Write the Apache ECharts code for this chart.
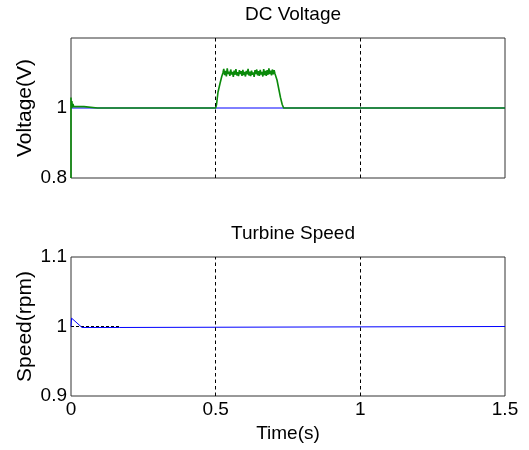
<!DOCTYPE html>
<html>
<head>
<meta charset="utf-8">
<script src="https://cdn.jsdelivr.net/npm/echarts@6/dist/echarts.min.js"></script>
<style>html,body{margin:0;padding:0;background:#fff;}#c{width:529px;height:450px;}</style>
</head>
<body>
<div id="c"></div>
<script>
// ---- data (time in s, value in p.u.) ----
var voltageTitle = 'DC Voltage';
var speedTitle = 'Turbine Speed';
var voltageAxisName = 'Voltage(V)';
var speedAxisName = 'Speed(rpm)';
var timeAxisName = 'Time(s)';

// interior vertical grid lines (s)
var gridTimes = [0.5, 1.0];

// measured DC voltage (green)
var dcVoltageMeasured = [
  [0,0.8],[0,1.03],[0.001,1.0],[0.003,1.02],[0.005,1.001],[0.007,1.012],[0.009,1.004],[0.045,1.004],[0.046,1.0],
  [0.0915,1.0],[0.092,1.005],[0.0925,1.0],
  [0.1115,1.0],[0.112,1.005],[0.1125,1.0],
  [0.1405,1.0],[0.141,1.005],[0.1415,1.0],
  [0.1515,1.0],[0.152,1.005],[0.1525,1.0],
  [0.1805,1.0],[0.181,1.005],[0.1815,1.0],
  [0.2145,1.0],[0.215,1.005],[0.2155,1.0],
  [0.2665,1.0],[0.267,1.005],[0.2675,1.0],
  [0.2955,1.0],[0.296,1.005],[0.2965,1.0],
  [0.3645,1.0],[0.365,1.005],[0.3655,1.0],
  [0.4295,1.0],[0.430,1.004],[0.4305,1.0],
  [0.5,1.0],[0.503,1.01],[0.508,1.045],[0.515,1.07],[0.521,1.09],
  [0.525,1.100],[0.528,1.112],[0.531,1.094],[0.534,1.106],[0.537,1.090],[0.540,1.113],[0.543,1.097],[0.546,1.104],
  [0.549,1.092],[0.552,1.110],[0.555,1.096],[0.558,1.103],[0.561,1.089],[0.564,1.107],[0.567,1.095],[0.570,1.111],
  [0.573,1.093],[0.576,1.102],[0.579,1.091],[0.582,1.108],[0.585,1.097],[0.588,1.105],[0.591,1.092],[0.594,1.109],
  [0.597,1.094],[0.600,1.103],[0.603,1.090],[0.606,1.106],[0.609,1.096],[0.612,1.112],[0.615,1.093],[0.618,1.104],
  [0.621,1.091],[0.624,1.107],[0.627,1.095],[0.630,1.102],[0.633,1.089],[0.636,1.108],[0.639,1.097],[0.642,1.110],
  [0.645,1.093],[0.648,1.105],[0.651,1.092],[0.654,1.109],[0.657,1.096],[0.660,1.103],[0.663,1.090],[0.666,1.111],
  [0.669,1.094],[0.672,1.106],[0.675,1.092],[0.678,1.108],[0.681,1.095],[0.684,1.113],[0.687,1.097],[0.690,1.107],
  [0.693,1.093],[0.696,1.110],[0.699,1.096],[0.702,1.108],[0.705,1.098],
  [0.712,1.08],[0.718,1.055],[0.724,1.03],[0.730,1.01],[0.735,1.0],
  [0.7665,1.0],[0.767,1.005],[0.7675,1.0],
  [0.7975,1.0],[0.798,1.005],[0.7985,1.0],
  [0.8155,1.0],[0.816,1.005],[0.8165,1.0],
  [0.8325,1.0],[0.833,1.005],[0.8335,1.0],
  [0.8775,1.0],[0.878,1.005],[0.8785,1.0],
  [0.9115,1.0],[0.912,1.005],[0.9125,1.0],
  [1.1125,1.0],[1.113,1.005],[1.1135,1.0],
  [1.2055,1.0],[1.206,1.005],[1.2065,1.0],
  [1.3095,1.0],[1.310,1.005],[1.3105,1.0],
  [1.4135,1.0],[1.414,1.005],[1.4145,1.0],
  [1.4235,1.0],[1.424,1.005],[1.4245,1.0],
  [1.4545,1.0],[1.455,1.005],[1.4555,1.0],
  [1.5,1.0]
];
// DC voltage reference (blue)
var dcVoltageRef = [[0,1.0],[1.5,1.0]];

// turbine speed (blue) and its reference (black dashed)
var speedMeasured = [[0,1.0],[0.002,1.012],[0.006,1.0135],[0.038,0.9986],[0.168,0.9986],[0.169,1.0],[1.5,1.0]];
var speedRef = [[0,1.0],[0.168,1.0]];

var FONT = '"Liberation Sans", Arial, sans-serif';

var chart = echarts.init(document.getElementById('c'), null, {renderer: 'canvas'});

function xAx(grid, showLabels) {
  var a = {
    gridIndex: grid, type: 'value', min: 0, max: 1.5, interval: 0.5,
    axisLine: {show: false}, axisTick: {show: false},
    axisLabel: {show: showLabels, color: '#000', fontFamily: FONT, fontSize: 19, margin: 4,
      formatter: function (v) { return String(v); }},
    splitLine: {show: false}
  };
  if (showLabels) {
    a.name = timeAxisName; a.nameLocation = 'middle'; a.nameGap = 28; a.nameMoveOverlap = false;
    a.nameTextStyle = {color: '#000', fontFamily: FONT, fontSize: 19};
  }
  return a;
}
function yAx(grid, min, max, interval, name, hideMax) {
  return {
    gridIndex: grid, type: 'value', min: min, max: max, interval: interval,
    axisLine: {show: false}, axisTick: {show: false}, splitLine: {show: false},
    axisLabel: {color: '#000', fontFamily: FONT, fontSize: 19, margin: 4, showMaxLabel: !hideMax,
      formatter: function (v) { return String(Math.round(v * 10) / 10); }},
    name: name, nameLocation: 'middle', nameGap: 35, nameRotate: 90, nameMoveOverlap: false,
    nameTextStyle: {color: '#000', fontFamily: FONT, fontSize: 21}
  };
}
function vLines() {
  return {
    symbol: ['none', 'none'], silent: true, label: {show: false},
    lineStyle: {color: '#000', type: [3.5, 3], width: 1},
    data: gridTimes.map(function (t) { return {xAxis: t}; })
  };
}

chart.setOption({
  animation: false,
  backgroundColor: '#fff',
  title: [
    {text: voltageTitle, left: 288, top: 0, textAlign: 'center',
     textStyle: {color: '#000', fontFamily: FONT, fontSize: 19, fontWeight: 'normal'}},
    {text: speedTitle, left: 288, top: 219, textAlign: 'center',
     textStyle: {color: '#000', fontFamily: FONT, fontSize: 19, fontWeight: 'normal'}}
  ],
  grid: [
    {left: 71, top: 38, width: 434, height: 140, show: true, borderColor: '#333', borderWidth: 1, backgroundColor: 'transparent'},
    {left: 71, top: 257, width: 434, height: 139, show: true, borderColor: '#333', borderWidth: 1, backgroundColor: 'transparent'}
  ],
  xAxis: [xAx(0, false), xAx(1, true)],
  yAxis: [yAx(0, 0.8, 1.2, 0.2, voltageAxisName, true), yAx(1, 0.9, 1.1, 0.1, speedAxisName, false)],
  series: [
    {type: 'line', xAxisIndex: 0, yAxisIndex: 0, data: dcVoltageRef, showSymbol: false, symbol: 'none',
     lineStyle: {color: '#0000ff', width: 1}, z: 3, markLine: vLines()},
    {type: 'line', xAxisIndex: 0, yAxisIndex: 0, data: dcVoltageMeasured, showSymbol: false, symbol: 'none',
     lineStyle: {color: '#0a8a0a', width: 1.6}, z: 4, clip: false},
    {type: 'line', xAxisIndex: 1, yAxisIndex: 1, data: speedRef, showSymbol: false, symbol: 'none',
     lineStyle: {color: '#000', width: 1, type: [3, 2]}, z: 3, markLine: vLines()},
    {type: 'line', xAxisIndex: 1, yAxisIndex: 1, data: speedMeasured, showSymbol: false, symbol: 'none',
     lineStyle: {color: '#0000ff', width: 1}, z: 4}
  ]
});
</script>
</body>
</html>
